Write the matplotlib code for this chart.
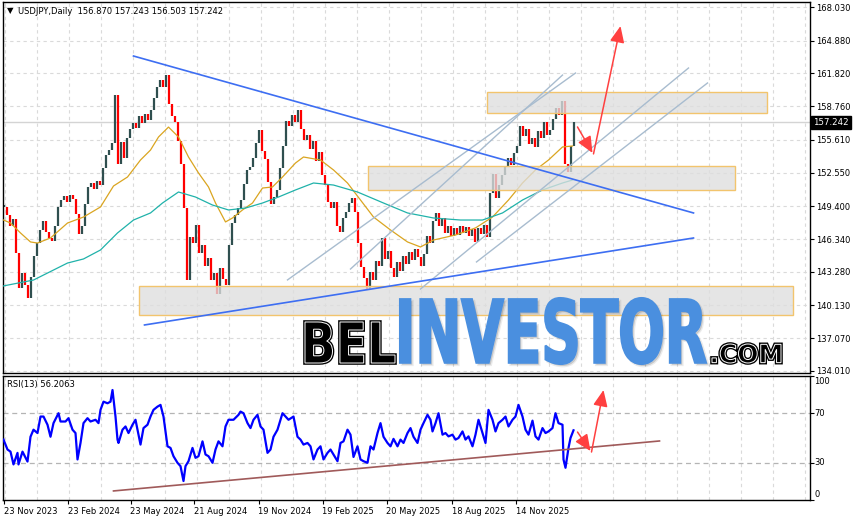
import numpy as np
import matplotlib
matplotlib.use('Agg')
import matplotlib.pyplot as plt
from matplotlib.patches import Rectangle, PathPatch
from matplotlib.textpath import TextPath
from matplotlib.font_manager import FontProperties
from matplotlib.transforms import Affine2D, IdentityTransform

# ---------------- data ----------------
STEP = 3  # trading days between sampled closes
closes = [
    149.3, 148.6, 147.6, 148.2, 145.0, 141.8, 143.2, 142.0, 140.8, 142.8,
    144.8, 146.0, 147.2, 148.0, 147.0, 146.4, 146.2, 147.6, 149.3, 150.0,
    150.4, 149.8, 150.5, 150.1, 148.7, 146.8, 147.6, 149.6, 151.2, 151.6,
    151.0, 151.8, 151.4, 153.0, 154.2, 154.7, 155.3, 159.8, 153.4, 155.4,
    153.9, 155.8, 156.6, 157.2, 156.7, 157.8, 157.2, 158.0, 157.5, 158.4,
    159.5, 160.6, 161.2, 160.6, 161.7, 159.0, 157.8, 157.3, 155.5, 153.4,
    149.2, 142.5, 146.5, 146.0, 147.7, 145.0, 145.8, 143.8, 144.6, 142.5,
    143.2, 141.2, 143.6, 142.6, 142.0, 145.8, 147.8, 148.6, 149.2, 150.0,
    151.5, 152.8, 153.1, 153.9, 155.3, 156.5, 154.6, 153.8, 151.7, 149.6,
    150.3, 150.9, 153.0, 155.0, 157.4, 156.9, 157.9, 157.3, 158.4, 156.6,
    155.6, 156.1, 154.8, 155.5, 153.6, 154.5, 152.3, 151.4, 149.8, 149.2,
    149.8, 147.6, 147.0, 148.3, 148.9, 149.7, 150.2, 148.9, 146.0, 143.7,
    142.7, 141.6, 143.3, 142.5, 144.3, 143.8, 146.4, 144.5, 145.2, 143.6,
    142.8, 144.2, 143.4, 144.8, 144.0, 145.1, 144.4, 145.4, 144.7, 143.8,
    144.9, 146.6, 146.0, 148.0, 148.8, 147.6, 148.3, 146.9, 147.6, 146.6,
    147.4, 146.7, 147.6, 146.9, 147.5, 146.6, 147.3, 146.1, 147.4, 146.8,
    147.7, 146.5, 150.6, 152.4, 150.2, 151.4, 152.3, 153.2, 153.9, 153.3,
    154.4, 155.0, 156.9, 156.0, 156.6, 155.2, 155.8, 154.9, 156.4, 155.8,
    157.3, 156.1, 156.5, 157.6, 158.6, 157.9, 159.2, 153.4, 152.6, 155.0,
    157.242,
]

ma_fast_idx = [0, 7, 17, 27, 34, 47, 64, 80, 97, 110, 124, 137, 147, 155, 165, 175,
               185, 195, 205, 212, 222, 229, 239, 249, 259, 269, 279, 292, 300, 317,
               330, 344, 357, 370, 387, 404, 417, 430, 452, 472, 489, 505, 519, 532,
               545, 559, 569]
ma_fast = [148.12, 147.84, 146.91, 146.07, 145.97, 146.44, 147.84, 148.40, 149.34,
           151.30, 152.14, 153.73, 154.66, 155.88, 156.81, 155.88, 154.01, 152.52,
           151.21, 149.71, 147.94, 148.31, 149.06, 149.71, 151.11, 151.21, 152.14,
           153.45, 154.01, 153.73, 152.80, 151.58, 149.99, 148.40, 147.19, 146.07,
           145.60, 146.25, 146.72, 147.38, 148.40, 149.99, 151.58, 152.80, 153.73,
           154.95, 155.04]

ma_slow_idx = [0, 30, 64, 80, 97, 114, 130, 147, 159, 175, 192, 209, 225, 242, 259,
               275, 292, 310, 330, 354, 380, 404, 430, 457, 479, 499, 519, 539, 559, 569]
ma_slow = [141.96, 142.51, 144.10, 144.48, 145.32, 146.91, 148.12, 148.78, 149.71,
           150.74, 150.27, 149.52, 149.06, 149.24, 149.71, 150.27, 150.93, 151.58,
           151.39, 150.74, 149.71, 148.78, 148.31, 148.12, 148.12, 148.78, 149.99,
           150.93, 151.58, 151.86]

rsi_idx = [0, 4, 7, 10, 14, 15, 19, 24, 27, 30, 34, 37, 40, 44, 47, 50, 55, 57, 62, 65,
           69, 72, 74, 77, 80, 84, 87, 92, 95, 97, 100, 104, 107, 109, 112, 114, 115, 119,
           122, 125, 129, 132, 134, 137, 140, 144, 147, 150, 154, 157, 160, 164, 167, 170,
           174, 177, 180, 182, 185, 189, 192, 195, 199, 202, 205, 209, 212, 215, 219, 222,
           225, 230, 235, 237, 240, 244, 247, 250, 254, 257, 260, 264, 267, 270, 274, 279,
           282, 285, 290, 294, 297, 300, 304, 307, 310, 314, 317, 320, 324, 327, 330, 334,
           337, 340, 344, 347, 350, 354, 357, 360, 364, 367, 370, 374, 377, 380, 384, 387,
           390, 394, 397, 400, 404, 407, 410, 414, 417, 420, 424, 427,
           429, 432, 435, 439, 442, 445, 449, 452, 455, 459, 462, 465, 469, 472, 475, 479,
           482, 485, 489, 492, 495, 499, 502, 505, 509, 512, 515, 519, 522, 525, 529, 532,
           535, 539, 542, 545, 549, 552, 555, 559, 560, 562, 565, 567, 570]
rsi = [48.7, 40.7, 39, 28.7, 38, 28.7, 39, 31, 51, 56.7,
       54, 67.3, 67.3, 60.7, 51, 62, 70, 63.3, 63.3, 66,
       56.7, 54, 32.7, 46, 62, 66, 63.3, 64.7, 62, 72.7,
       79.3, 78, 79.3, 88.7, 67.3, 48.7, 46, 56.7, 59.3, 54,
       60.7, 64.7, 56.7, 44.7, 58, 60.7, 67.3, 72.7, 75.3, 76.7,
       67.3, 43.3, 42, 35.3, 30, 27.3, 15.3, 27.3, 31.3, 42,
       34, 35.3, 47.3, 36.7, 35.3, 30, 40.7, 47.3, 43.3, 59.3,
       64.7, 64.7, 68.7, 71.3, 70, 62, 58, 64.7, 68.7, 59.3,
       56.7, 38, 40.7, 51, 56.7, 70, 67.3, 64.7, 67.3, 51,
       48.7, 44.7, 46, 43.3, 32.7, 40.7, 43.3, 32.7, 38, 40.7,
       36.7, 31.3, 46, 47.3, 56.7, 52.7, 34.7, 43.3, 32.7, 31.3,
       30, 43.3, 40.7, 54, 62, 51, 46, 43.3, 49.3, 43.3,
       48.7, 46, 54, 58, 51, 46, 56.7, 62, 68.7, 64.7,
       55.3, 62, 70, 52.7, 54, 51.3, 52.7, 48.7, 50, 55.3,
       48.7, 51.3, 43.3, 52.7, 64.7, 54, 46, 72.7, 64.7, 55.3,
       62, 64.7, 67.3, 59.3, 64.7, 67.3, 76.7, 67.3, 56.7, 52.7,
       64, 51.3, 48.7, 58, 54, 55.3, 58, 70, 62, 60.7,
       32.7, 26, 42, 50, 56.2063]

price_ticks = [168.030, 164.880, 161.820, 158.760, 155.610, 152.550, 149.400,
               146.340, 143.280, 140.130, 137.070, 134.010]
date_idx = [0, 64, 127, 190, 255, 319, 383, 448, 512]
date_labels = ['23 Nov 2023', '23 Feb 2024', '23 May 2024', '21 Aug 2024', '19 Nov 2024',
               '19 Feb 2025', '20 May 2025', '18 Aug 2025', '14 Nov 2025']
rsi_levels = [70, 30]

# annotation objects (bar index, price)
trend_down = ([130, 690], [163.45, 148.78])
trend_up = ([141, 690], [138.31, 146.44])
channels = [([284, 572], [142.52, 161.86]),
            ([347, 559], [143.54, 161.67]),
            ([417, 685], [141.67, 162.33]),
            ([473, 704], [144.20, 160.93])]
zones = [(483, 763, 158.12, 160.09), (364, 731, 150.93, 153.17), (135, 789, 139.25, 141.96)]
arrows_main = [((574, 156.82), (589, 154.39)), ((590, 154.30), (617, 166.25))]
rsi_trend = ([110, 656], [7.3, 47.6])
arrows_rsi = [((574, 54.8), (587, 39.5)), ((588, 38.7), (600, 88.7))]

header = 'USDJPY,Daily  156.870 157.243 156.503 157.242'

# ---------------- figure ----------------
W, H = 855, 521
fig = plt.figure(figsize=(W / 100, H / 100), dpi=100)
fig.patch.set_facecolor('white')
plt.rcParams['font.family'] = ['DejaVu Sans']


def px_box(l, t, r, b):
    return [l / W, 1 - b / H, (r - l) / W, (b - t) / H]


ax = fig.add_axes(px_box(3, 2, 809.5, 373))
axr = fig.add_axes(px_box(3, 376, 809.5, 500))
XMIN, XMAX = -0.5, 806.0
for a in (ax, axr):
    a.set_xlim(XMIN, XMAX)
    for s in a.spines.values():
        s.set_linewidth(1.0)
        s.set_color('black')
ax.set_ylim(133.82, 168.50)
axr.set_ylim(0, 100)

grid_kw = dict(color='#dadada', lw=0.8, ls=(0, (3, 3)), zorder=0)
grid_x = np.arange(1, XMAX, 32)
for g in grid_x:
    ax.axvline(g, **grid_kw)
    axr.axvline(g, **grid_kw)
for p in price_ticks:
    ax.axhline(p, **grid_kw)

# current price line
closes_a = np.array(closes)
ax.axhline(closes_a[-1], color='#d4d4d4', lw=1.0, zorder=1)

# candles
idx = np.arange(len(closes_a)) * STEP
opens = np.r_[closes_a[0], closes_a[:-1]]
lo = np.minimum(opens, closes_a)
hi = np.maximum(opens, closes_a)
hi = np.maximum(hi, lo + 0.25)
cols = np.where(closes_a >= opens, '#2f4f4f', '#ff0000')
ax.vlines(idx, lo, hi, colors=cols, lw=1.6, zorder=2)

# moving averages
ax.plot(ma_fast_idx, ma_fast, color='#daa520', lw=0.9, zorder=3)
ax.plot(ma_slow_idx, ma_slow, color='#20b2aa', lw=0.9, zorder=3)

# zones
for x0, x1, y0, y1 in zones:
    ax.add_patch(Rectangle((x0, y0), x1 - x0, y1 - y0, facecolor=(0.87, 0.87, 0.87, 0.78),
                           edgecolor='#f2c46d', lw=1.0, zorder=4))

# lines
for xs, ys in channels:
    ax.plot(xs, ys, color='#a8bccf', lw=1.0, zorder=5)
ax.plot(*trend_down, color='#3d6ef2', lw=1.2, zorder=5)
ax.plot(*trend_up, color='#3d6ef2', lw=1.2, zorder=5)

arrow_kw = dict(arrowstyle='-|>,head_length=0.9,head_width=0.4', color='#ff4040', lw=1.1,
                shrinkA=0, shrinkB=0, mutation_scale=11)
for (p0, p1) in arrows_main:
    ax.annotate('', xy=p1, xytext=p0, arrowprops=arrow_kw, zorder=6)

# y axis main
ax.set_xticks([])
ax.yaxis.tick_right()
ax.set_yticks(price_ticks)
ax.set_yticklabels(['%.3f' % p for p in price_ticks])
ax.tick_params(axis='y', length=3, width=0.8, pad=2, labelsize=6, colors='black')

# current price tag
ax.annotate('%.3f' % closes_a[-1], xy=(1, closes_a[-1]), xycoords=ax.get_yaxis_transform(),
            xytext=(4, 0), textcoords='offset pixels', ha='left', va='center', fontsize=6.2,
            color='white', annotation_clip=False,
            bbox=dict(boxstyle='square,pad=0.25', fc='black', ec='black'))

# ---------------- RSI ----------------
for lv in rsi_levels:
    axr.axhline(lv, color='#b4b4b4', lw=0.9, ls=(0, (4, 3)), zorder=1)
axr.plot(rsi_idx, rsi, color='#0000ff', lw=1.6, zorder=3)
axr.plot(*rsi_trend, color='#a05a5a', lw=1.2, zorder=4)
for (p0, p1) in arrows_rsi:
    axr.annotate('', xy=p1, xytext=p0, arrowprops=arrow_kw, zorder=6)

axr.yaxis.tick_right()
axr.set_yticks([0, 30, 70, 100])
axr.set_yticklabels([])
axr.tick_params(axis='y', length=3, width=0.8)
ytr = axr.get_yaxis_transform()
for v, va in [(100, 'top'), (70, 'center'), (30, 'center'), (0, 'bottom')]:
    axr.annotate(str(v), xy=(1, v), xycoords=ytr, xytext=(5, -1 if va == 'top' else (1 if va == 'bottom' else 0)),
                 textcoords='offset pixels', ha='left', va=va, fontsize=6, annotation_clip=False)

axr.set_xticks(date_idx)
axr.set_xticklabels(date_labels)
axr.tick_params(axis='x', length=3, width=0.8, pad=2, labelsize=6)
for lbl in axr.get_xticklabels():
    lbl.set_ha('left')

# texts
fig.text(7 / W, 1 - 11 / H, '\u25bc', fontsize=6, va='center', ha='left')
fig.text(18 / W, 1 - 11 / H, header, fontsize=6, va='center', ha='left')
fig.text(7 / W, 1 - 385 / H, 'RSI(13) 56.2063', fontsize=6, va='center', ha='left')


# ---------------- watermark ----------------
def word(text, box, family, fc, inline=False, shadow=False, bold_lw=0.0):
    fp = FontProperties(family=family, weight='bold')
    tp = TextPath((0, 0), text, size=100, prop=fp)
    ext = tp.get_extents()
    l, t, r, b = box
    tr = Affine2D().translate(-ext.x0, -ext.y0).scale((r - l) / ext.width, (b - t) / ext.height).translate(l, H - b)
    path = tr.transform_path(tp)
    if shadow:
        sp = Affine2D().translate(2, -2).transform_path(path)
        fig.add_artist(PathPatch(sp, transform=IdentityTransform(), fc=(0, 0, 0, 0.15),
                                 ec=(0, 0, 0, 0.08), lw=2, zorder=8))
    if inline:
        fig.add_artist(PathPatch(path, transform=IdentityTransform(), fc=fc, ec=fc, lw=2.6, zorder=9))
        fig.add_artist(PathPatch(path, transform=IdentityTransform(), fc=fc, ec='white', lw=0.7, zorder=10))
    else:
        fig.add_artist(PathPatch(path, transform=IdentityTransform(), fc=fc, ec=fc, lw=bold_lw, zorder=9))


word('BEL', (305, 322, 395, 363), ['DejaVu Sans'], 'black', inline=True)
word('INVESTOR', (400, 298, 706, 364), ['DejaVu Sans'], '#4a8fdf', shadow=True, bold_lw=1.5)
word('.COM', (712, 344, 781, 363), ['DejaVu Sans'], 'black', inline=True)

fig.savefig('out.png', dpi=100)
